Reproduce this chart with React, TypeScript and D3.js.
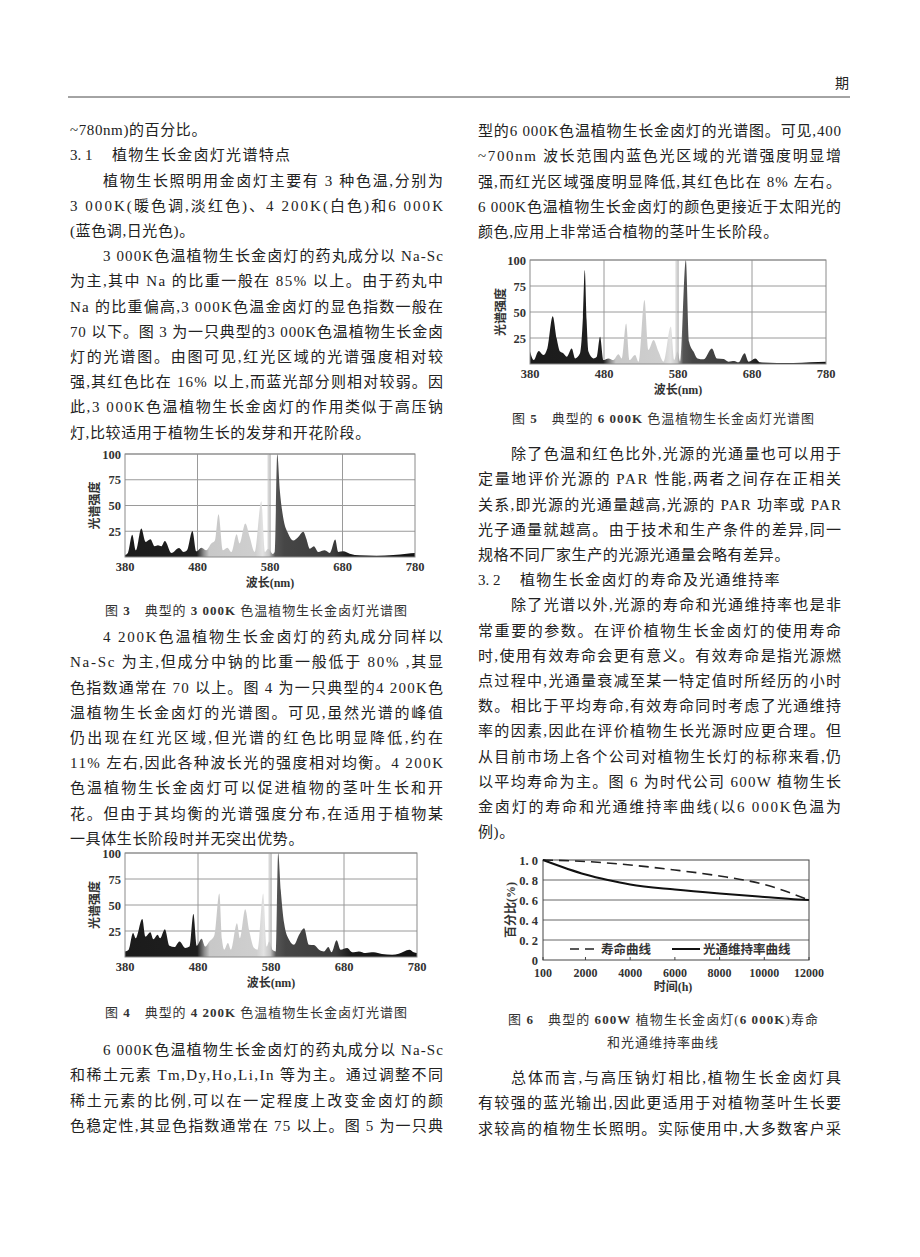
import React from 'react';
import * as d3 from 'd3';

const W = 920;
const H = 1257;
const FONT = "'Liberation Serif','Noto Sans CJK SC',serif";
const INK = '#222';

// ---------- chart data ----------
const spectrum3000K: [number, number][] = [
  [380, 2], [384, 4], [390, 21.7], [395, 6.5], [402.5, 27.6], [408.5, 14.6], [415, 17.2], [421, 10.4],
  [425.5, 11.4], [430, 10.4], [435, 15.6], [444, 3.9], [454.5, 8.8], [461, 4.9], [465.5, 6.5], [473, 25.3],
  [478.5, 5.5], [485.5, 9.1], [492, 6.5], [499, 13], [504, 16], [509, 41.6], [515, 6.5], [521, 9.1],
  [527, 4.9], [534, 22], [538, 13], [546, 32.5], [552, 19.5], [559, 4.9], [568, 54.2], [573, 4.9],
  [577.5, 8], [584, 3], [586.5, 5], [590, 100], [593.5, 65], [598, 39], [605, 22.7], [612, 16],
  [619, 19.5], [626, 24.4], [630, 17.9], [635, 8], [640.5, 10.4], [646.5, 4.9], [655.5, 6.5], [662.5, 3.9],
  [670, 16.9], [674, 4.9], [681, 5.5], [690, 3.2], [704, 1.6], [727, 1.3], [750, 2], [768.5, 3.2], [780, 3.9],
];

const spectrum4200K: [number, number][] = [
  [380, 5.4], [385, 7], [391, 23], [394.6, 18], [403.7, 36.6], [408, 19.7], [414.6, 23.9], [419, 17],
  [424.6, 21.3], [428, 18], [434.6, 26.8], [441, 10.8], [447.8, 9.6], [454.6, 15], [462.8, 8.6], [468.3, 10],
  [473.7, 41.4], [478.3, 10.8], [485, 17.5], [489.7, 10], [495.6, 15], [502.4, 21], [509.2, 61], [512.9, 16.6],
  [516, 7], [521, 13.4], [525, 7], [533.4, 32.5], [537.5, 18], [544.7, 45.9], [550, 26], [557, 8.6],
  [561.6, 7], [569.3, 61], [573.9, 10], [577.5, 15], [582, 7], [586.6, 5.4], [589.8, 100], [593.4, 64],
  [598, 32.5], [604.8, 16.6], [611.6, 11.8], [618.5, 21.3], [625.3, 27.7], [632, 11.8], [639, 11.5], [645.8, 7],
  [652.6, 5.4], [658.5, 9.6], [663, 4.5], [669.9, 16], [675.3, 7], [684.4, 8.6], [691.3, 4.5], [700.4, 5.4],
  [709.5, 3.8], [720.8, 4.5], [732, 2.9], [745.9, 2.2], [755, 3.2], [769.5, 7], [775.5, 4.5], [780, 3.8],
];

const spectrum6000K: [number, number][] = [
  [380, 11.9], [385, 3.8], [391.7, 12.5], [398, 8.7], [403.4, 15], [410.7, 46], [416, 24.7], [420.6, 11.9],
  [425, 10.3], [429.6, 7], [436.4, 15], [441, 5.4], [447.6, 10.3], [451.5, 45], [454, 90.4], [456.5, 42],
  [459, 11.9], [465.7, 5.4], [470.2, 7], [474.7, 26.3], [479.2, 3.8], [486, 5.4], [492.7, 3.8], [499.5, 9.3],
  [504, 5.4], [509.9, 39], [514.4, 3.8], [522, 8.7], [526.6, 2.2], [534.7, 61.5], [540, 13.5], [546.9, 23],
  [553.6, 11.9], [560.4, 2.2], [570.3, 36], [574.8, 3.8], [579.3, 11.9], [583, 2.2], [590.6, 100], [595, 21.5],
  [601, 11.9], [606.4, 5.4], [614.5, 4.5], [625.8, 15], [632.5, 5.4], [641.6, 4.8], [648.3, 2.2], [656, 2.9],
  [661.8, 1.6], [670, 10.3], [675.4, 2.2], [684.4, 5.4], [691, 1.6], [713.7, 1], [736, 1], [758.8, 1.6], [780, 2.2],
];

const wlTicks = [380, 480, 580, 680, 780];
const intensityTicks = [25, 50, 75, 100];
const wlGrid = [480, 580, 680];
const wlExtraGrid = [577.5];

// tones of the printed spectrum along wavelength
const spectrumTones: [number, string][] = [
  [380, '#1b1b1b'], [479, '#1f1f1f'], [489, '#8f8f8f'], [496, '#c8c8c8'], [560, '#cfcfcf'],
  [570, '#e2e2e2'], [579, '#c4c4c4'], [587, '#555555'], [600, '#464646'], [668, '#3c3c3c'],
  [688, '#1a1a1a'], [780, '#121212'],
];

const lifeHours = [100, 2000, 4000, 6000, 8000, 10000, 12000];
const lifeValues = [1.0, 0.985, 0.95, 0.9, 0.84, 0.755, 0.6];
const lumenHours = [100, 2000, 3000, 4000, 6000, 8000, 10000, 11500, 12000];
const lumenValues = [1.0, 0.855, 0.8, 0.755, 0.705, 0.665, 0.63, 0.605, 0.6];
const hourTicks = [100, 2000, 4000, 6000, 8000, 10000, 12000];
const pctTicks = [0, 0.2, 0.4, 0.6, 0.8, 1.0];

// ---------- page text ----------
type Para = { lines?: string[]; indent?: boolean; open?: boolean; heading?: [string, string] };

const leftTop: Para[] = [
  { lines: ['~780nm)的百分比。'] },
  { heading: ['3. 1', '植物生长金卤灯光谱特点'] },
  {
    indent: true,
    lines: ['植物生长照明用金卤灯主要有 3 种色温,分别为', '3 000K(暖色调,淡红色)、4 200K(白色)和6 000K', '(蓝色调,日光色)。'],
  },
  {
    indent: true,
    lines: [
      '3 000K色温植物生长金卤灯的药丸成分以 Na-Sc',
      '为主,其中 Na 的比重一般在 85% 以上。由于药丸中',
      'Na 的比重偏高,3 000K色温金卤灯的显色指数一般在',
      '70 以下。图 3 为一只典型的3 000K色温植物生长金卤',
      '灯的光谱图。由图可见,红光区域的光谱强度相对较',
      '强,其红色比在 16% 以上,而蓝光部分则相对较弱。因',
      '此,3 000K色温植物生长金卤灯的作用类似于高压钠',
      '灯,比较适用于植物生长的发芽和开花阶段。',
    ],
  },
];

const leftMid: Para[] = [
  {
    indent: true,
    lines: [
      '4 200K色温植物生长金卤灯的药丸成分同样以',
      'Na-Sc 为主,但成分中钠的比重一般低于 80% ,其显',
      '色指数通常在 70 以上。图 4 为一只典型的4 200K色',
      '温植物生长金卤灯的光谱图。可见,虽然光谱的峰值',
      '仍出现在红光区域,但光谱的红色比明显降低,约在',
      '11% 左右,因此各种波长光的强度相对均衡。4 200K',
      '色温植物生长金卤灯可以促进植物的茎叶生长和开',
      '花。但由于其均衡的光谱强度分布,在适用于植物某',
      '一具体生长阶段时并无突出优势。',
    ],
  },
];

const leftBottom: Para[] = [
  {
    indent: true,
    open: true,
    lines: [
      '6 000K色温植物生长金卤灯的药丸成分以 Na-Sc',
      '和稀土元素 Tm,Dy,Ho,Li,In 等为主。通过调整不同',
      '稀土元素的比例,可以在一定程度上改变金卤灯的颜',
      '色稳定性,其显色指数通常在 75 以上。图 5 为一只典',
    ],
  },
];

const rightTop: Para[] = [
  {
    lines: [
      '型的6 000K色温植物生长金卤灯的光谱图。可见,400',
      '~700nm 波长范围内蓝色光区域的光谱强度明显增',
      '强,而红光区域强度明显降低,其红色比在 8% 左右。',
      '6 000K色温植物生长金卤灯的颜色更接近于太阳光的',
      '颜色,应用上非常适合植物的茎叶生长阶段。',
    ],
  },
];

const rightMid: Para[] = [
  {
    indent: true,
    lines: [
      '除了色温和红色比外,光源的光通量也可以用于',
      '定量地评价光源的 PAR 性能,两者之间存在正相关',
      '关系,即光源的光通量越高,光源的 PAR 功率或 PAR',
      '光子通量就越高。由于技术和生产条件的差异,同一',
      '规格不同厂家生产的光源光通量会略有差异。',
    ],
  },
  { heading: ['3. 2', '植物生长金卤灯的寿命及光通维持率'] },
  {
    indent: true,
    lines: [
      '除了光谱以外,光源的寿命和光通维持率也是非',
      '常重要的参数。在评价植物生长金卤灯的使用寿命',
      '时,使用有效寿命会更有意义。有效寿命是指光源燃',
      '点过程中,光通量衰减至某一特定值时所经历的小时',
      '数。相比于平均寿命,有效寿命同时考虑了光通维持',
      '率的因素,因此在评价植物生长光源时应更合理。但',
      '从目前市场上各个公司对植物生长灯的标称来看,仍',
      '以平均寿命为主。图 6 为时代公司 600W 植物生长',
      '金卤灯的寿命和光通维持率曲线(以6 000K色温为',
      '例)。',
    ],
  },
];

const rightBottom: Para[] = [
  {
    indent: true,
    open: true,
    lines: [
      '总体而言,与高压钠灯相比,植物生长金卤灯具',
      '有较强的蓝光输出,因此更适用于对植物茎叶生长要',
      '求较高的植物生长照明。实际使用中,大多数客户采',
    ],
  },
];

// ---------- layout helpers ----------
const LH = 25.2;
const BASE = 5.2;
const INDENT = 33;
const BODY = 15;

function TextBlock({ paras, x0, x1, y0 }: { paras: Para[]; x0: number; x1: number; y0: number }) {
  const out: React.ReactNode[] = [];
  let i = 0;
  paras.forEach((p, pi) => {
    const y = () => y0 + i * LH + BASE;
    if (p.heading) {
      out.push(
        <text key={`h${pi}a`} x={x0} y={y()} fontSize={BODY}>{p.heading[0]}</text>,
        <text key={`h${pi}b`} x={x0 + 42} y={y()} fontSize={BODY} style={{ letterSpacing: '1.3px' }}>{p.heading[1]}</text>
      );
      i++;
      return;
    }
    (p.lines || []).forEach((ln, li) => {
      const last = li === (p.lines as string[]).length - 1 && !p.open;
      const xs = li === 0 && p.indent ? x0 + INDENT : x0;
      if (last) {
        out.push(
          <text key={`${pi}-${li}`} x={xs} y={y()} fontSize={BODY} style={{ letterSpacing: '0.6px' }}>{ln}</text>
        );
      } else {
        out.push(
          <text key={`${pi}-${li}`} x={xs} y={y()} fontSize={BODY} textLength={x1 - xs} lengthAdjust="spacing">{ln}</text>
        );
      }
      i++;
    });
  });
  return <g fill={INK} fontFamily={FONT}>{out}</g>;
}

function SpectrumChart({ id, data, left, right, top, bottom, labelX }: {
  id: string; data: [number, number][]; left: number; right: number; top: number; bottom: number; labelX: number;
}) {
  const x = d3.scaleLinear().domain([380, 780]).range([left, right]);
  const y = d3.scaleLinear().domain([0, 100]).range([bottom, top]);
  const area = d3.area<[number, number]>()
    .x((d) => x(d[0]))
    .y0(bottom)
    .y1((d) => y(Math.min(100, d[1])))
    .curve(d3.curveMonotoneX);
  const grid = '#9a9a9a';
  return (
    <g fontFamily={FONT}>
      <defs>
        <linearGradient id={id} gradientUnits="userSpaceOnUse" x1={x(380)} x2={x(780)} y1={0} y2={0}>
          {spectrumTones.map(([w, c], k) => (
            <stop key={k} offset={(w - 380) / 400} stopColor={c} />
          ))}
        </linearGradient>
      </defs>
      {intensityTicks.map((t) => (
        <line key={`h${t}`} x1={left} x2={right} y1={y(t)} y2={y(t)} stroke={grid} strokeWidth={1} />
      ))}
      {wlGrid.map((w) => (
        <line key={`v${w}`} x1={x(w)} x2={x(w)} y1={top} y2={bottom} stroke={grid} strokeWidth={1} />
      ))}
      {wlExtraGrid.map((w) => (
        <line key={`e${w}`} x1={x(w)} x2={x(w)} y1={top} y2={bottom} stroke="#c4c4c4" strokeWidth={1} />
      ))}
      <path d={area(data) || ''} fill={`url(#${id})`} />
      <rect x={left} y={top} width={right - left} height={bottom - top} fill="none" stroke="#8a8a8a" strokeWidth={1} />
      {intensityTicks.map((t) => (
        <text key={`yl${t}`} x={left - 4} y={y(t) + 4.5} textAnchor="end" fontSize={12.5} fontWeight="bold" fill="#333">{t}</text>
      ))}
      {wlTicks.map((w) => (
        <text key={`xl${w}`} x={x(w)} y={bottom + 14} textAnchor="middle" fontSize={12.5} fontWeight="bold" fill="#333">{w}</text>
      ))}
      <text x={(left + right) / 2} y={bottom + 30} textAnchor="middle" fontSize={12} fontWeight="bold" fill="#333">波长(nm)</text>
      <text transform={`translate(${labelX},${(top + bottom) / 2}) rotate(-90)`} textAnchor="middle" dominantBaseline="central" fontSize={12} fontWeight="bold" fill="#333">光谱强度</text>
    </g>
  );
}

function Caption({ x, y, w, num, bold, rest }: { x: number; y: number; w: number; num: string; bold: string; rest: string }) {
  return (
    <text x={x} y={y} fontSize={13} fontFamily={FONT} fill="#333" textLength={w} lengthAdjust="spacing">
      <tspan>图 </tspan>
      <tspan fontWeight="bold">{num}</tspan>
      <tspan>{'　典型的 '}</tspan>
      <tspan fontWeight="bold">{bold}</tspan>
      <tspan>{rest}</tspan>
    </text>
  );
}

function LifeChart() {
  const left = 543, right = 809, top = 860, bottom = 960;
  const x = d3.scaleLinear().domain([100, 12000]).range([left, right]);
  const y = d3.scaleLinear().domain([0, 1]).range([bottom, top]);
  const line = d3.line<[number, number]>().x((d) => x(d[0])).y((d) => y(d[1])).curve(d3.curveMonotoneX);
  const life: [number, number][] = lifeHours.map((h, k) => [h, lifeValues[k]]);
  const lumen: [number, number][] = lumenHours.map((h, k) => [h, lumenValues[k]]);
  const fmt = (v: number) => (v === 0 ? '0' : v.toFixed(1).replace('.', '. '));
  const ly = 949;
  return (
    <g fontFamily={FONT}>
      {pctTicks.filter((t) => t > 0 && t < 1).map((t) => (
        <line key={t} x1={left} x2={right} y1={y(t)} y2={y(t)} stroke="#666" strokeWidth={1} />
      ))}
      <rect x={left} y={top} width={right - left} height={bottom - top} fill="none" stroke="#444" strokeWidth={1} />
      {hourTicks.map((h) => (
        <line key={`t${h}`} x1={x(h)} x2={x(h)} y1={bottom} y2={bottom - 3} stroke="#444" />
      ))}
      <path d={line(life) || ''} fill="none" stroke="#222" strokeWidth={1.6} strokeDasharray="10 6" />
      <path d={line(lumen) || ''} fill="none" stroke="#111" strokeWidth={2} />
      {pctTicks.map((t) => (
        <text key={`yl${t}`} x={left - 5} y={y(t) + 4.5} textAnchor="end" fontSize={12.5} fontWeight="bold" fill="#333">{fmt(t)}</text>
      ))}
      {hourTicks.map((h) => (
        <text key={`xl${h}`} x={x(h)} y={bottom + 17} textAnchor="middle" fontSize={12} fontWeight="bold" fill="#333">{h}</text>
      ))}
      <text x={673} y={bottom + 31} textAnchor="middle" fontSize={12} fontWeight="bold" fill="#333">时间(h)</text>
      <text transform={`translate(511,${(top + bottom) / 2}) rotate(-90)`} textAnchor="middle" dominantBaseline="central" fontSize={12} fontWeight="bold" fill="#333">百分比(%)</text>
      <line x1={570} x2={597} y1={ly} y2={ly} stroke="#222" strokeWidth={1.6} strokeDasharray="9 6" />
      <text x={601} y={ly + 4.5} fontSize={12.5} fontWeight="bold" fill="#333">寿命曲线</text>
      <line x1={672} x2={700} y1={ly} y2={ly} stroke="#111" strokeWidth={2} />
      <text x={703} y={ly + 4.5} fontSize={12.5} fontWeight="bold" fill="#333">光通维持率曲线</text>
    </g>
  );
}

export default function App() {
  return (
    <svg width={W} height={H} viewBox={`0 0 ${W} ${H}`} style={{ position: 'absolute', left: 0, top: 0 }}>
      <rect x={0} y={0} width={W} height={H} fill="#fff" />
      <text x={835} y={88} fontSize={14} fontFamily={FONT} fill={INK}>期</text>
      <line x1={68} x2={850} y1={97} y2={97} stroke="#333" strokeWidth={0.9} />

      <TextBlock paras={leftTop} x0={70} x1={443} y0={130} />
      <SpectrumChart id="g3" data={spectrum3000K} left={125} right={415} top={454} bottom={557} labelX={95} />
      <Caption x={105} y={615} w={302} num="3" bold="3 000K" rest=" 色温植物生长金卤灯光谱图" />

      <TextBlock paras={leftMid} x0={70} x1={443} y0={637} />
      <SpectrumChart id="g4" data={spectrum4200K} left={125} right={417} top={853} bottom={957} labelX={95} />
      <Caption x={105} y={1017} w={302} num="4" bold="4 200K" rest=" 色温植物生长金卤灯光谱图" />

      <TextBlock paras={leftBottom} x0={70} x1={443} y0={1050} />

      <TextBlock paras={rightTop} x0={478} x1={841} y0={131} />
      <SpectrumChart id="g5" data={spectrum6000K} left={530} right={826} top={260} bottom={364} labelX={501} />
      <Caption x={512} y={423} w={302} num="5" bold="6 000K" rest=" 色温植物生长金卤灯光谱图" />

      <TextBlock paras={rightMid} x0={478} x1={841} y0={454} />
      <LifeChart />
      <text x={508} y={1024} fontSize={13} fontFamily={FONT} fill="#333" textLength={310} lengthAdjust="spacing">
        <tspan>图 </tspan>
        <tspan fontWeight="bold">6</tspan>
        <tspan>{'　典型的 '}</tspan>
        <tspan fontWeight="bold">600W</tspan>
        <tspan> 植物生长金卤灯(</tspan>
        <tspan fontWeight="bold">6 000K</tspan>
        <tspan>)寿命</tspan>
      </text>
      <text x={663} y={1047} fontSize={13} fontFamily={FONT} fill="#333" textAnchor="middle" style={{ letterSpacing: '1px' }}>和光通维持率曲线</text>

      <TextBlock paras={rightBottom} x0={478} x1={841} y0={1078} />
    </svg>
  );
}
